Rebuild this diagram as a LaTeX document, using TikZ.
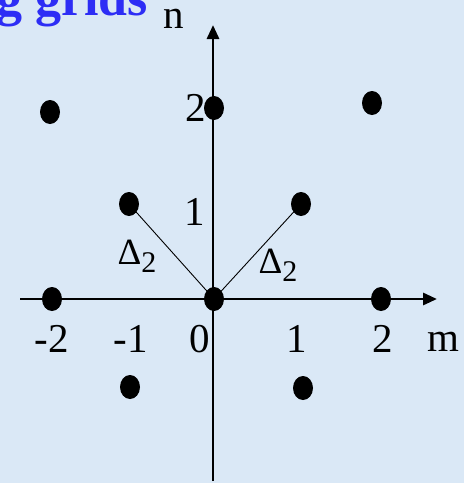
\documentclass[tikz,border=0pt]{standalone}
\usepackage{fontspec}
\setmainfont{Liberation Serif}
\usetikzlibrary{arrows.meta,shapes.geometric}
\definecolor{bgblue}{RGB}{218,232,246}
\definecolor{titleblue}{RGB}{45,45,245}
\tikzset{
  dot/.style={ellipse, fill=black, minimum width=20pt, minimum height=24pt, inner sep=0pt},
  lbl/.style={inner sep=0pt, font=\fontsize{41}{48}\selectfont},
  dlbl/.style={inner sep=0pt, font=\fontsize{37}{42}\selectfont},
  axis/.style={line width=2.9pt, -{Triangle[length=14pt,width=12pt]}},
  thin/.style={line width=0.9pt}
}
\begin{document}
\begin{tikzpicture}[x=1pt,y=-1pt]
\useasboundingbox (0,0) rectangle (464,483);
\clip (0,0) rectangle (464,483);
\fill[bgblue] (0,0) rectangle (464,483);
% title
\node[anchor=base east, inner sep=0pt, text=titleblue, font=\fontsize{52}{60}\selectfont\bfseries] (title) at (148,15) {g grids};
% axes
\coordinate (xs) at (20,299);
\coordinate (xe) at (437,299);
\coordinate (ys) at (213,481);
\coordinate (ye) at (213,25);
\draw[axis] (xs) -- (xe);
\draw[axis] (ys) -- (ye);
% dots
\node[dot] (o) at (214,299) {};
\node[dot] (a) at (129,204) {};
\node[dot] (b) at (301,204) {};
\node[dot] (c) at (52,299) {};
\node[dot] (d) at (381,299) {};
\node[dot] (e) at (214,108) {};
\node[dot] (f) at (50,112) {};
\node[dot] (g) at (372,103) {};
\node[dot] (h) at (130,387) {};
\node[dot] (k) at (303,388) {};
\draw[thin] (a.center) -- (o.center);
\draw[thin] (b.center) -- (o.center);
% labels
\node[lbl] (n) at (174,19) {n};
\node[lbl] (m) at (443,342) {m};
\node[lbl] (lm2) at (52,339) {-2};
\node[lbl] (lm1) at (131,339) {-1};
\node[lbl] (l0) at (200,339) {0};
\node[lbl] (l1) at (297,339) {1};
\node[lbl] (l2) at (383,339) {2};
\node[lbl] (ln1) at (195,212) {1};
\node[lbl] (ln2) at (196,108) {2};
\node[dlbl] (d1) at (137,256) {Δ\raisebox{-8pt}{\fontsize{30}{34}\selectfont 2}};
\node[dlbl] (d2) at (278,265) {Δ\raisebox{-8pt}{\fontsize{30}{34}\selectfont 2}};
\end{tikzpicture}
\end{document}
